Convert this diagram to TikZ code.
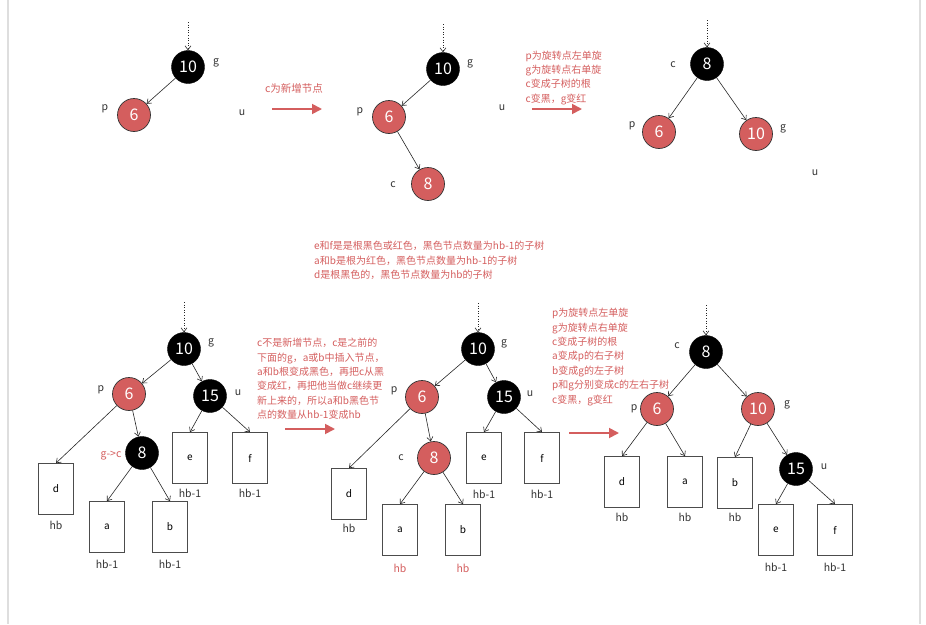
\documentclass[tikz,border=0pt]{standalone}
\usepackage{fontspec}
\setmainfont{Noto Sans CJK SC}
\usetikzlibrary{arrows.meta}
\definecolor{rbred}{RGB}{212,94,94}
\definecolor{rbline}{RGB}{222,222,222}
\tikzset{
  blk/.style  ={circle,draw=black,fill=black,minimum size=33pt,inner sep=0pt,text=white,font=\fontsize{16}{16}\selectfont},
  rd/.style   ={circle,draw=black!80,line width=0.7pt,fill=rbred,minimum size=33pt,inner sep=0pt,text=white,font=\fontsize{16}{16}\selectfont},
  sub/.style  ={draw=black!70,line width=0.8pt,minimum width=35pt,minimum height=51pt,inner sep=0pt,font=\fontsize{10}{10}\selectfont},
  ar/.style   ={-{Straight Barb[length=4pt,width=6pt]},black!85,line width=0.6pt},
  dotar/.style={ar,dotted},
  redar/.style={-{Triangle[length=10pt,width=10pt]},rbred,line width=1.8pt},
  tag/.style  ={font=\fontsize{10.5}{10.5}\selectfont,inner sep=1pt,text=black!80},
  rtag/.style ={tag,text=rbred},
  note/.style ={font=\fontsize{10}{14.4}\selectfont,text=rbred,align=left,inner sep=0pt,anchor=north west},
}
\begin{document}
\begin{tikzpicture}[x=1pt,y=-1pt]
  \useasboundingbox (0,0) rectangle (926,624);
  \draw[rbline,line width=1.2pt] (8,0) -- (8,624);
  \draw[rbline,line width=1.2pt] (920,0) -- (920,624);

  % top row: before
  \coordinate (t1) at (188,22);
  \node[blk] (g1) at (188,67){10}; \node[tag] (g1l) at (216,63){g};
  \node[rd] (p1) at (134,115){6};  \node[tag] (p1l) at (105,109){p};
  \node[tag] (u1l) at (242,113){u};
  \draw[dotar] (t1) -- (g1);
  \draw[ar] (g1) -- (p1);

  \coordinate (a1s) at (272,109); \coordinate (a1e) at (322,109);
  \draw[redar] (a1s) -- (a1e);
  \node[rtag] (a1l) at (294,88){c为新增节点};

  % top row: c inserted
  \coordinate (t2) at (443,24);
  \node[blk] (g2) at (443,69){10}; \node[tag] (g2l) at (470,64){g};
  \node[rd] (p2) at (389,117){6};  \node[tag] (p2l) at (360,112){p};
  \node[rd] (c2) at (428,184){8};  \node[tag] (c2l) at (393,185){c};
  \node[tag] (u2l) at (502,108){u};
  \draw[dotar] (t2) -- (g2);
  \draw[ar] (g2) -- (p2);
  \draw[ar] (p2) -- (c2);

  \coordinate (a2s) at (532,109); \coordinate (a2e) at (582,109);
  \draw[redar] (a2s) -- (a2e);
  \node[note] (n2) at (525.5,50.5){p为旋转点左单旋\\g为旋转点右单旋\\c变成子树的根\\c变黑，g变红};

  % top row: after rotations
  \coordinate (t3) at (707,20);
  \node[blk] (c3) at (707,64){8};   \node[tag] (c3l) at (673,65){c};
  \node[rd] (p3) at (659,132){6};   \node[tag] (p3l) at (632,126){p};
  \node[rd] (g3) at (756,134){10};  \node[tag] (g3l) at (783,129){g};
  \node[tag] (u3l) at (815,173){u};
  \draw[dotar] (t3) -- (c3);
  \draw[ar] (c3) -- (p3);
  \draw[ar] (c3) -- (g3);

  \node[note] (n0) at (314,241){e和f是是根黑色或红色，黑色节点数量为hb-1的子树\\a和b是根为红色，黑色节点数量为hb-1的子树\\d是根黑色的，黑色节点数量为hb的子树};

  % bottom row: before
  \coordinate (t4) at (184,302);
  \node[blk] (g4) at (184,349){10}; \node[tag] (g4l) at (211,343){g};
  \node[rd] (p4) at (129,394){6};   \node[tag] (p4l) at (101,390){p};
  \node[blk] (u4) at (210,396){15}; \node[tag] (u4l) at (238,393){u};
  \node[blk] (c4) at (142,453){8};  \node[rtag] (c4l) at (111,456){g->c};
  \node[sub] (d4) at (56,489){d};   \node[tag] (d4l) at (56,525){hb};
  \node[sub] (a4) at (107,527){a};  \node[tag] (a4l) at (107,564){hb-1};
  \node[sub] (b4) at (170,527){b};  \node[tag] (b4l) at (170,564){hb-1};
  \node[sub] (e4) at (190,458){e};  \node[tag] (e4l) at (190,493){hb-1};
  \node[sub] (f4) at (250,458){f};  \node[tag] (f4l) at (250,493){hb-1};
  \draw[dotar] (t4) -- (g4);
  \draw[ar] (g4) -- (p4); \draw[ar] (g4) -- (u4);
  \draw[ar] (p4) -- (d4.north); \draw[ar] (p4) -- (c4);
  \draw[ar] (c4) -- (a4.north); \draw[ar] (c4) -- (b4.north);
  \draw[ar] (u4) -- (e4.north); \draw[ar] (u4) -- (f4.north);

  \coordinate (a4s) at (285,429); \coordinate (a4e) at (335,429);
  \draw[redar] (a4s) -- (a4e);
  \node[note] (n4) at (257,338){c不是新增节点，c是之前的\\下面的g，a或b中插入节点，\\a和b根变成黑色，再把c从黑\\变成红，再把他当做c继续更\\新上来的，所以a和b黑色节\\点的数量从hb-1变成hb};

  % bottom row: after recolouring
  \coordinate (t5) at (478,303);
  \node[blk] (g5) at (478,349){10}; \node[tag] (g5l) at (504,344){g};
  \node[rd] (p5) at (422,397){6};   \node[tag] (p5l) at (394,391){p};
  \node[blk] (u5) at (504,397){15}; \node[tag] (u5l) at (530,394){u};
  \node[rd] (c5) at (434,458){8};   \node[tag] (c5l) at (401,458){c};
  \node[sub] (d5) at (349,494){d};  \node[tag] (d5l) at (349,528){hb};
  \node[sub] (a5) at (400,530){a};  \node[rtag] (a5l) at (400,568){hb};
  \node[sub] (b5) at (463,530){b};  \node[rtag] (b5l) at (463,568){hb};
  \node[sub] (e5) at (484,458){e};  \node[tag] (e5l) at (484,494){hb-1};
  \node[sub] (f5) at (542,458){f};  \node[tag] (f5l) at (542,494){hb-1};
  \draw[dotar] (t5) -- (g5);
  \draw[ar] (g5) -- (p5); \draw[ar] (g5) -- (u5);
  \draw[ar] (p5) -- (d5.north); \draw[ar] (p5) -- (c5);
  \draw[ar] (c5) -- (a5.north); \draw[ar] (c5) -- (b5.north);
  \draw[ar] (u5) -- (e5.north); \draw[ar] (u5) -- (f5.north);

  \coordinate (a5s) at (569,433); \coordinate (a5e) at (619,433);
  \draw[redar] (a5s) -- (a5e);
  \node[note] (n5) at (552,308){p为旋转点左单旋\\g为旋转点右单旋\\c变成子树的根\\a变成p的右子树\\b变成g的左子树\\p和g分别变成c的左右子树\\c变黑，g变红};

  % bottom row: after rotations
  \coordinate (t6) at (706,305);
  \node[blk] (c6) at (706,352){8};  \node[tag] (c6l) at (677,346){c};
  \node[rd] (p6) at (657,409){6};   \node[tag] (p6l) at (634,409){p};
  \node[rd] (g6) at (758,409){10};  \node[tag] (g6l) at (787,405){g};
  \node[blk] (u6) at (796,469){15}; \node[tag] (u6l) at (824,467){u};
  \node[sub] (d6) at (622,482){d};  \node[tag] (d6l) at (622,517){hb};
  \node[sub] (a6) at (685,482){a};  \node[tag] (a6l) at (685,517){hb};
  \node[sub] (b6) at (735,483){b};  \node[tag] (b6l) at (735,517){hb};
  \node[sub] (e6) at (776,530){e};  \node[tag] (e6l) at (776,567){hb-1};
  \node[sub] (f6) at (835,530){f};  \node[tag] (f6l) at (835,567){hb-1};
  \draw[dotar] (t6) -- (c6);
  \draw[ar] (c6) -- (p6); \draw[ar] (c6) -- (g6);
  \draw[ar] (p6) -- (d6.north); \draw[ar] (p6) -- (a6.north);
  \draw[ar] (g6) -- (b6.north); \draw[ar] (g6) -- (u6);
  \draw[ar] (u6) -- (e6.north); \draw[ar] (u6) -- (f6.north);
\end{tikzpicture}
\end{document}
